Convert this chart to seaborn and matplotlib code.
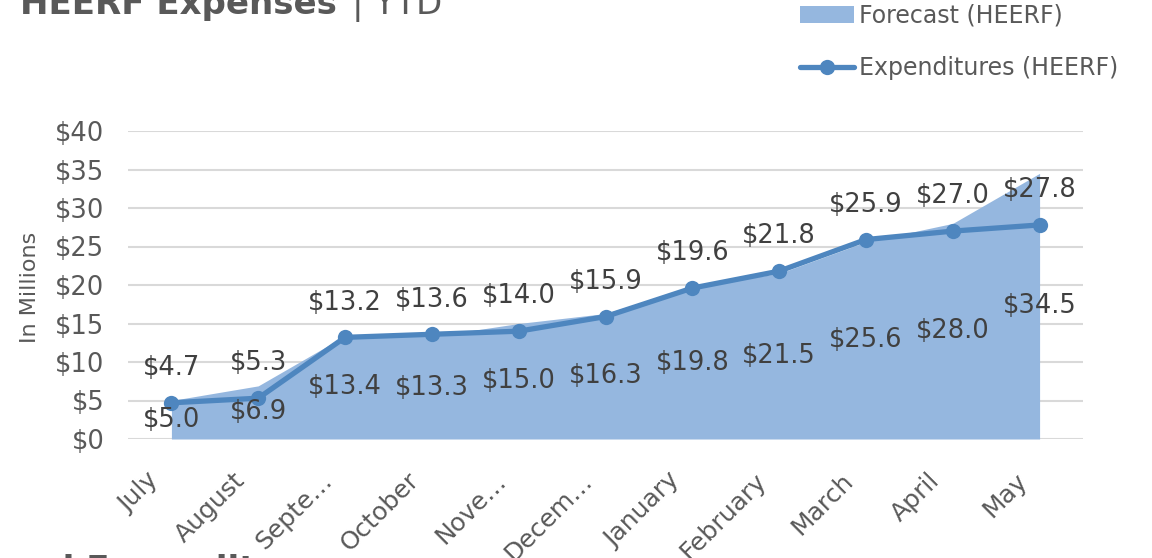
import matplotlib
matplotlib.use("Agg")
import matplotlib.pyplot as plt
import matplotlib.transforms as mtransforms
from matplotlib.patches import Patch
from matplotlib.lines import Line2D
import seaborn as sns
import pandas as pd

months = ["July", "August", "Septe…", "October", "Nove…", "Decem…",
          "January", "February", "March", "April", "May"]
forecast = [5.0, 6.9, 13.4, 13.3, 15.0, 16.3, 19.8, 21.5, 25.6, 28.0, 34.5]
expenditures = [4.7, 5.3, 13.2, 13.6, 14.0, 15.9, 19.6, 21.8, 25.9, 27.0, 27.8]
y_ticks = [0, 5, 10, 15, 20, 25, 30, 35, 40]

AREA = "#95B7DF"
LINE = "#4E86BF"
TICK = "#595959"
LAB = "#404040"

sns.set_theme(style="white")
plt.rcParams["font.family"] = ["DejaVu Sans"]

df = pd.DataFrame({"idx": range(len(months)), "month": months,
                   "forecast": forecast, "exp": expenditures})

fig = plt.figure(figsize=(11.52, 5.58), dpi=100)
ax = fig.add_axes([128 / 1152, 1 - 439 / 558, (1083 - 128) / 1152, (439 - 131) / 558])

ax.fill_between(df["idx"], 0, df["forecast"], color=AREA, linewidth=0, zorder=2)
sns.lineplot(data=df, x="idx", y="exp", ax=ax, color=LINE, linewidth=3.8,
             marker="o", markersize=11, markeredgewidth=0, zorder=3)

ax.set_xlim(-0.5, len(months) - 0.5)
ax.set_ylim(0, 40)
ax.set_yticks(y_ticks)
ax.set_yticklabels([f"${v}" for v in y_ticks], fontsize=18.5, color=TICK)
ax.yaxis.grid(True, color="#D9D9D9", linewidth=1.5, zorder=0)
ax.set_axisbelow(True)
for s in ax.spines.values():
    s.set_visible(False)
ax.tick_params(axis="both", length=0)
ax.tick_params(axis="y", pad=17)

ax.set_xticks(df["idx"])
ax.set_xticklabels(months, rotation=45, ha="right", va="top", fontsize=18,
                   color=TICK)
ax.tick_params(axis="x", pad=21)
offset = mtransforms.ScaledTranslation(-8 / 100, 0, fig.dpi_scale_trans)
for lbl in ax.get_xticklabels():
    lbl.set_transform(lbl.get_transform() + offset)

ax.set_xlabel("")
ax.set_ylabel("")
fig.text(30 / 1152, 1 - 287 / 558, "In Millions", rotation=90, fontsize=16,
         color=TICK, ha="center", va="center")

for i, (f, e) in enumerate(zip(forecast, expenditures)):
    ax.annotate(f"${e:.1f}", (i, e), xytext=(0, 25), textcoords="offset points",
                ha="center", va="center", fontsize=18.5, color=LAB, zorder=5)
    ax.text(i, f / 2, f"${f:.1f}", ha="center", va="center", fontsize=18.5,
            color=LAB, zorder=5)

# title (partially cut off at top, as in reference)
fig.text(20 / 1152, 1 - 14 / 558, "HEERF Expenses", fontsize=24.5,
         fontweight="bold", color=TICK, ha="left", va="baseline")
fig.text(352 / 1152, 1 - 14 / 558, "| YTD", fontsize=24.5, color=TICK,
         ha="left", va="baseline")
# next heading, cut off at bottom
fig.text(50 / 1152, 1 - 580 / 558, "d Expenditures", fontsize=24.5,
         fontweight="bold", color=TICK, ha="left", va="baseline")

handles = [Patch(facecolor=AREA, edgecolor="none"),
           Line2D([0], [0], color=LINE, linewidth=3.8, marker="o",
                  markersize=11, markeredgewidth=0)]
fig.legend(handles, ["Forecast (HEERF)", "Expenditures (HEERF)"],
           loc="upper left", bbox_to_anchor=(800 / 1152, 1 - 4 / 558),
           frameon=False, fontsize=17, labelcolor=TICK, borderpad=0,
           borderaxespad=0, handlelength=2.3, handletextpad=0.2,
           labelspacing=1.2)

fig.savefig("out.png", dpi=100)
